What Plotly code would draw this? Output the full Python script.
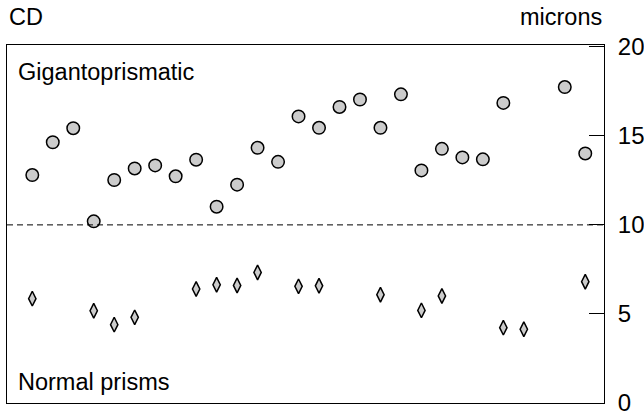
import plotly.graph_objects as go

# Sample index (x positions)
samples = list(range(28))

# Crystal size, microns
gigantoprismatic = [12.8, 14.64, 15.43, 10.2, 12.52, 13.17, 13.34, 12.73, 13.66, 11.02,
                    12.26, 14.33, 13.54, 16.09, 15.45, 16.62, 17.04, 15.45, 17.33, 13.06,
                    14.27, 13.79, 13.68, 16.85, None, None, 17.74, 14.01]
normal_prisms = [5.86, None, None, 5.18, 4.40, 4.81, None, None, 6.40, 6.64,
                 6.60, 7.33, None, 6.55, 6.58, None, None, 6.08, None, 5.20,
                 6.01, None, None, 4.23, 4.14, None, None, 6.81]

y_ticks = [0, 5, 10, 15, 20]
threshold = 10

FONT = "Liberation Sans, Arial, sans-serif"
TXT = 23.5

fig = go.Figure()
fig.add_trace(go.Scatter(
    x=samples, y=gigantoprismatic, mode="markers", name="Gigantoprismatic",
    marker=dict(symbol="circle", size=12.5, color="#cccccc",
                line=dict(color="black", width=1.5)),
    cliponaxis=False,
))
fig.add_trace(go.Scatter(
    x=samples, y=normal_prisms, mode="markers", name="Normal prisms",
    marker=dict(symbol="diamond-tall", size=10.5, color="#cccccc",
                line=dict(color="black", width=1.5)),
    cliponaxis=False,
))

fig.add_shape(type="line", xref="paper", yref="y", x0=0, x1=1,
              y0=threshold, y1=threshold,
              line=dict(color="black", width=1, dash="6px,4px"))

fig.update_layout(
    width=644, height=412,
    margin=dict(l=7, r=40, t=45, b=9, autoexpand=False),
    paper_bgcolor="white", plot_bgcolor="white",
    showlegend=False,
    font=dict(family=FONT, size=TXT, color="black"),
    xaxis=dict(range=[-1.235, 27.915], showgrid=False, zeroline=False,
               showticklabels=False, ticks="", showline=True, linecolor="black",
               linewidth=1, mirror=True, automargin=False),
    yaxis=dict(range=[0, 20.1], side="right", tickvals=y_ticks,
               ticktext=[str(v) for v in y_ticks],
               ticks="inside", ticklen=15, tickwidth=1, tickcolor="black",
               showgrid=False, zeroline=False, showline=True, linecolor="black",
               linewidth=1, mirror=True, ticklabelstandoff=8,
               ticklabeloverflow="allow", automargin=False,
               tickfont=dict(family=FONT, size=24, color="black")),
    annotations=[
        dict(text="CD", xref="paper", yref="paper", x=0, y=1, xanchor="left",
             yanchor="bottom", yshift=13, showarrow=False,
             font=dict(family=FONT, size=TXT)),
        dict(text="microns", xref="paper", yref="paper", x=1, y=1, xanchor="right",
             yanchor="bottom", yshift=13, showarrow=False,
             font=dict(family=FONT, size=TXT)),
        dict(text="Gigantoprismatic", xref="paper", yref="paper", x=0.015, y=0.925,
             xanchor="left", yanchor="middle", showarrow=False,
             font=dict(family=FONT, size=TXT)),
        dict(text="Normal prisms", xref="paper", yref="paper", x=0.015, y=0.06,
             xanchor="left", yanchor="middle", showarrow=False,
             font=dict(family=FONT, size=TXT)),
    ],
)

fig.write_html("out.html",
               config={"displayModeBar": False},
               post_script="document.body.style.margin='0';document.body.style.overflow='hidden';")
